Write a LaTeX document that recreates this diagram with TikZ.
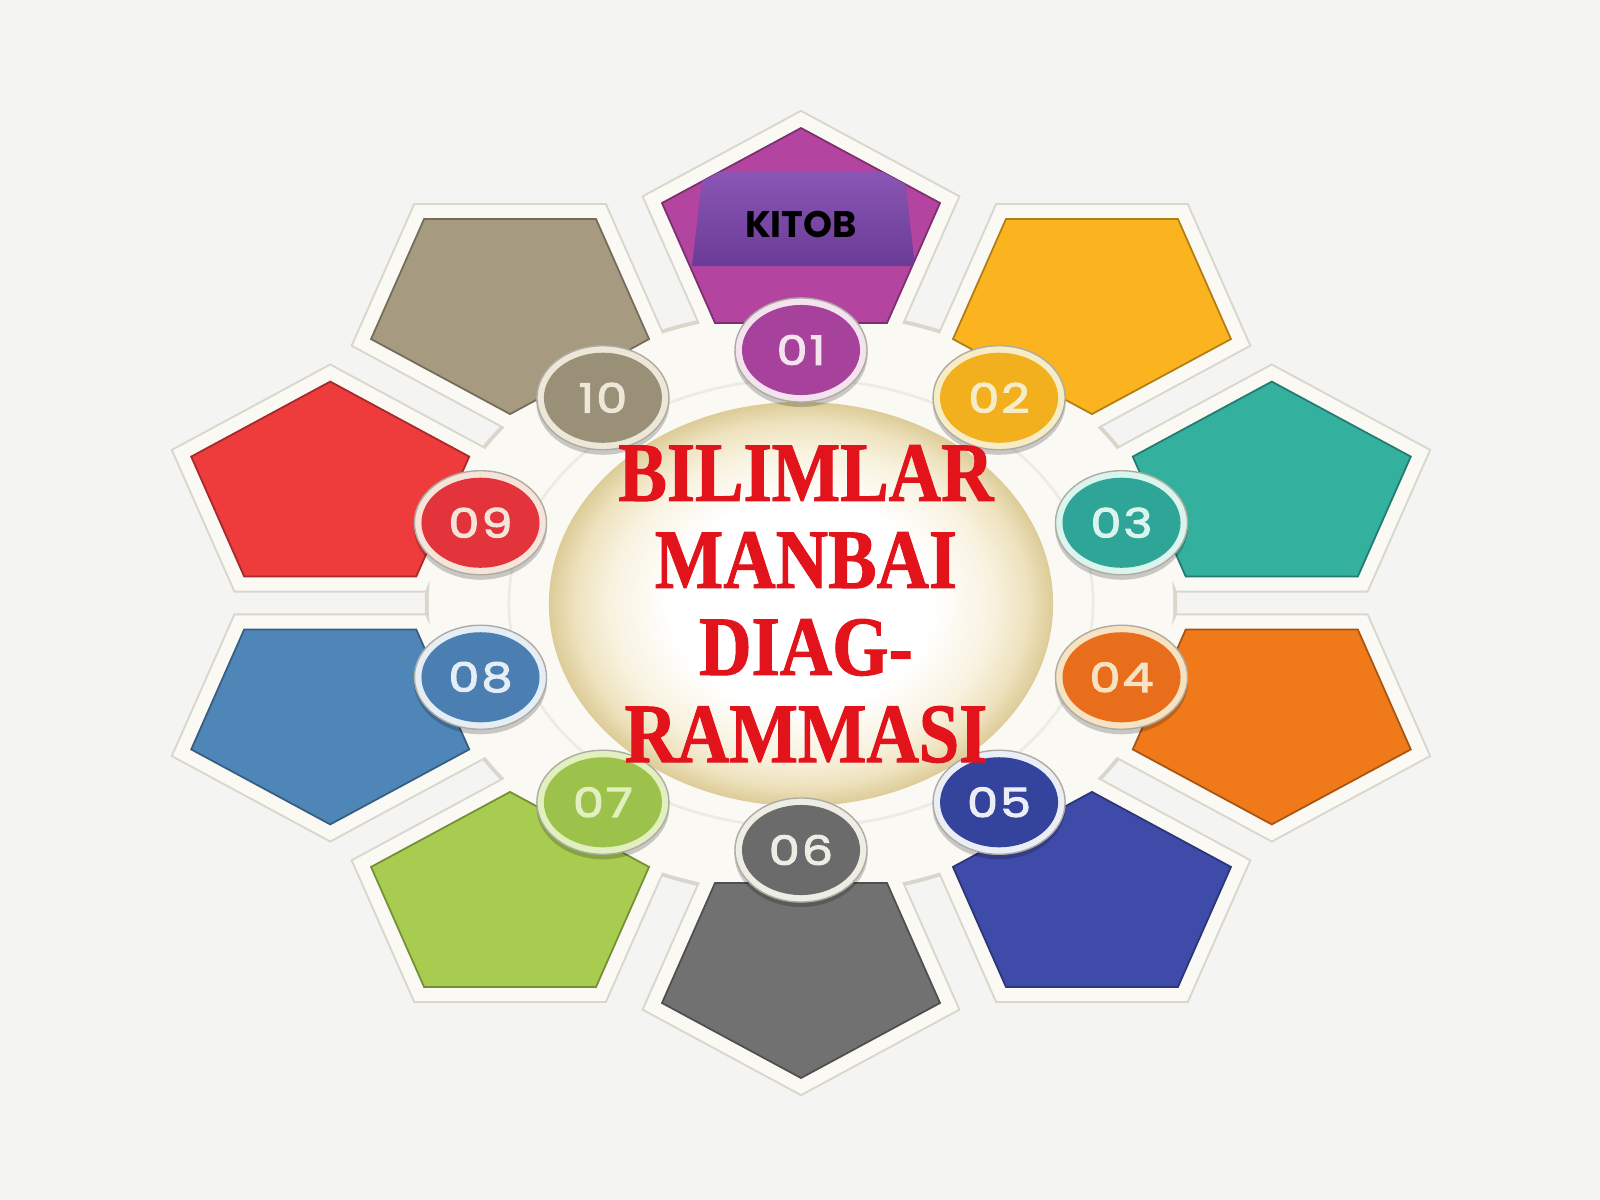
\documentclass[tikz,border=0pt]{standalone}
\usepackage{fontspec}
\usetikzlibrary{shapes.geometric}
\newfontfamily\titlefont{Liberation Serif}[FakeStretch=0.86,BoldFeatures={FakeBold=1.2}]
\newfontfamily\popfont{Poppins}
\newfontfamily\numfont{Poppins}[FakeStretch=1.22,LetterSpace=5,FakeBold=2.6]

\definecolor{bgc}{HTML}{F4F4F3}
\definecolor{gframe}{HTML}{D9D6CC}
\definecolor{wframe}{HTML}{FAF9F4}
\definecolor{glowmid}{HTML}{F8F2DF}
\definecolor{glowout}{HTML}{EEE2BE}
\definecolor{glowedge}{HTML}{DDCC98}
\definecolor{titlered}{HTML}{E3131B}
\definecolor{band1}{HTML}{8A55B4}
\definecolor{band2}{HTML}{6A3C97}
% pentagon colours
\definecolor{p1}{HTML}{B3449F}\definecolor{p2}{HTML}{FBB41F}
\definecolor{p3}{HTML}{34B09F}\definecolor{p4}{HTML}{F07A1A}
\definecolor{p5}{HTML}{3F4BA9}\definecolor{p6}{HTML}{717171}
\definecolor{p7}{HTML}{A7CC50}\definecolor{p8}{HTML}{4E86B8}
\definecolor{p9}{HTML}{EE3B3C}\definecolor{p10}{HTML}{A69B80}
% circle colours
\definecolor{c1}{HTML}{A6429C}\definecolor{c2}{HTML}{F2B01E}
\definecolor{c3}{HTML}{2FA597}\definecolor{c4}{HTML}{E86E1C}
\definecolor{c5}{HTML}{34439C}\definecolor{c6}{HTML}{6B6B6B}
\definecolor{c7}{HTML}{9DC24B}\definecolor{c8}{HTML}{4B7FB1}
\definecolor{c9}{HTML}{E2343A}\definecolor{c10}{HTML}{9A8F77}
% rim colours
\definecolor{r1}{HTML}{F4E3EF}\definecolor{r2}{HTML}{F6EDC6}
\definecolor{r3}{HTML}{DAF5EE}\definecolor{r4}{HTML}{F7E2C2}
\definecolor{r5}{HTML}{ECEEF7}\definecolor{r6}{HTML}{EDEDE4}
\definecolor{r7}{HTML}{E2EFBE}\definecolor{r8}{HTML}{E5EDF5}
\definecolor{r9}{HTML}{F6E4DA}\definecolor{r10}{HTML}{ECE7D7}

\pgfdeclareradialshading{glowshade}{\pgfpoint{0bp}{0bp}}{%
  color(0bp)=(white); color(13bp)=(white); color(19bp)=(glowmid);
  color(22.5bp)=(glowout); color(25bp)=(glowedge); color(50bp)=(glowedge)}

\tikzset{
  rimc/.style={ellipse, minimum width=1.32cm, minimum height=1.04cm,
    inner sep=0pt, draw=gframe!80!black, line width=0.4pt},
  numc/.style={ellipse, minimum width=1.18cm, minimum height=0.9cm,
    inner sep=0pt, font=\numfont\fontsize{11.5}{12}\selectfont},
  pentframe/.style={line join=miter},
}

\begin{document}
\begin{tikzpicture}[x=0.01cm, y=-0.01cm]
\useasboundingbox (0,0) rectangle (1600,1200);
\fill[bgc] (0,0) rectangle (1600,1200);

% geometry
\foreach \i/\s in {1/1,2/-1,3/1,4/-1,5/1,6/-1,7/1,8/-1,9/1,10/-1} {
  \pgfmathsetmacro\t{90-36*(\i-1)}
  \pgfmathsetmacro\cx{801+495*cos(\t)}
  \pgfmathsetmacro\cy{603-367*sin(\t)}
  \pgfmathsetmacro\ya{\cy-(\s)*108}
  \pgfmathsetmacro\yb{\cy-(\s)*33}
  \pgfmathsetmacro\yc{\cy+(\s)*87}
  \coordinate (PA\i) at (\cx,\ya);
  \coordinate (PB\i) at ({\cx+139},\yb);
  \coordinate (PC\i) at ({\cx+86},\yc);
  \coordinate (PD\i) at ({\cx-86},\yc);
  \coordinate (PE\i) at ({\cx-139},\yb);
  \pgfmathsetmacro\kx{801+337*cos(\t)}
  \pgfmathsetmacro\ky{600-250*sin(\t)}
  \coordinate (K\i) at (\kx,\ky);
}
\coordinate (C) at (801,603);

% grey outlines of the white frame
\fill[gframe] (C) ellipse [x radius=3.76cm, y radius=2.94cm];
\foreach \i in {1,...,10}
  \draw[pentframe, gframe, line width=0.32cm] (PA\i)--(PB\i)--(PC\i)--(PD\i)--(PE\i)--cycle;
% white frame
\fill[wframe] (C) ellipse [x radius=3.72cm, y radius=2.90cm];
\foreach \i in {1,...,10}
  \draw[pentframe, wframe, line width=0.28cm] (PA\i)--(PB\i)--(PC\i)--(PD\i)--(PE\i)--cycle;
\draw[gframe!50, line width=0.8pt] (C) ellipse [x radius=2.92cm, y radius=2.24cm];

% pentagons
\foreach \i/\c in {1/p1,2/p2,3/p3,4/p4,5/p5,6/p6,7/p7,8/p8,9/p9,10/p10}
  \filldraw[fill=\c, draw=\c!70!black, line width=0.5pt, line join=miter]
    (PA\i)--(PB\i)--(PC\i)--(PD\i)--(PE\i)--cycle;

% KITOB band
\begin{scope}
  \clip (PA1)--(PB1)--(PC1)--(PD1)--(PE1)--cycle;
  \shade[top color=band1, bottom color=band2] (703,172) -- (904,172) -- (915,266) -- (692,266) -- cycle;
\end{scope}
\node[font=\popfont\bfseries\fontsize{10.5}{11}\selectfont, text=black] (kitob) at (801,224) {KITOB};

% central glow
\shade[shading=glowshade] (801,604) ellipse [x radius=2.52cm, y radius=2.02cm];

% numbered circles
\foreach \i/\c/\r/\n in {1/c1/r1/01,2/c2/r2/02,3/c3/r3/03,4/c4/r4/04,5/c5/r5/05,
                         6/c6/r6/06,7/c7/r7/07,8/c8/r8/08,9/c9/r9/09,10/c10/r10/10} {
  \fill[black, opacity=0.2] ([yshift=-0.045cm]K\i) ellipse [x radius=0.665cm, y radius=0.525cm];
  \node[rimc, fill=\r] (R\i) at (K\i) {};
  \node[numc, fill=\c, text=\r] (N\i) at (K\i) {\n};
}

% title
\node[font=\titlefont\bfseries\fontsize{24}{24.75}\selectfont, text=titlered,
      align=center, inner sep=0pt] (title) at (806,604)
      {BILIMLAR\\MANBAI\\DIAG-\\RAMMASI};
\end{tikzpicture}
\end{document}
